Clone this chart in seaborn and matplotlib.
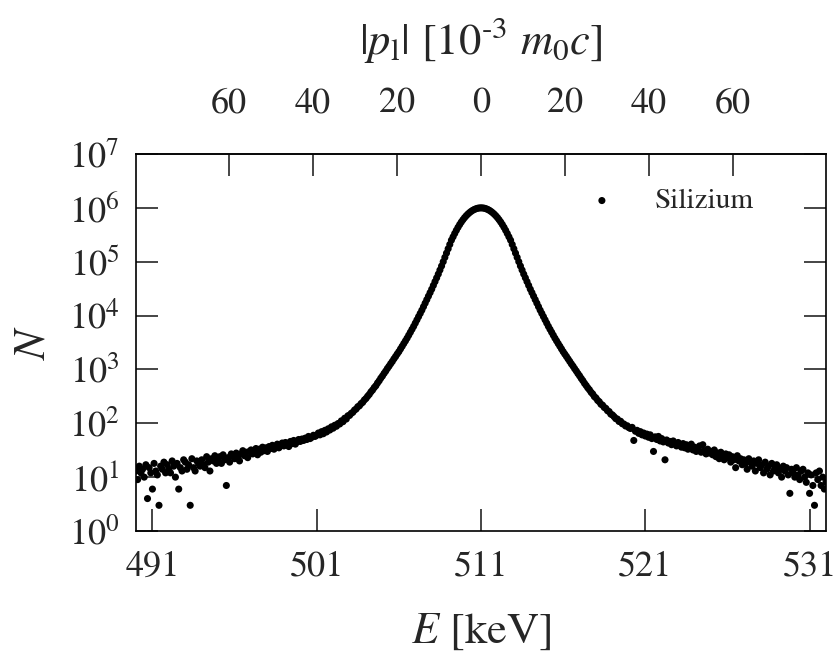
import numpy as np
import pandas as pd
import matplotlib
matplotlib.use("Agg")
import matplotlib.pyplot as plt
import seaborn as sns

# ---------------- data ----------------
E_START = 490.0      # first channel energy [keV]
E_STEP = 0.1         # channel width [keV]
E0 = 511.0           # line centre [keV]
KEV_PER_P = 0.2555   # keV per 10^-3 m0c of longitudinal momentum

counts_left = [  # 490.0 ... 511.0 keV
    13, 9, 16, 12, 14, 10, 17, 4, 15, 12,
    6, 18, 13, 11, 3, 16, 14, 19, 12, 17,
    14, 12, 20, 16, 10, 18, 6, 15, 13, 21,
    19, 14, 17, 3, 22, 15, 13, 20, 18, 16,
    21, 17, 15, 24, 19, 13, 22, 20, 25, 18,
    20, 24, 18, 26, 21, 7, 23, 19, 27, 25,
    22, 28, 24, 20, 27, 31, 25, 29, 23, 30,
    32, 27, 30, 34, 26, 33, 29, 36, 31, 35,
    30, 37, 34, 39, 33, 36, 41, 35, 38, 43,
    38, 44, 40, 37, 46, 42, 48, 41, 45, 50,
    46, 51, 48, 53, 50, 57, 52, 55, 60, 57,
    60, 66, 61, 70, 64, 74, 69, 79, 75, 86,
    81, 92, 88, 99, 97, 111, 107, 124, 120, 138,
    140, 153, 160, 176, 184, 203, 211, 232, 245, 271,
    289, 318, 344, 383, 414, 460, 498, 559, 614, 688,
    755, 843, 930, 1040, 1146, 1275, 1405, 1572, 1736, 1935,
    2138, 2401, 2688, 3022, 3385, 3806, 4315, 4898, 5559, 6310,
    7244, 8318, 9550, 10960, 12590, 14620, 16980, 19720, 22910, 26610,
    30900, 36310, 42660, 50120, 58880, 69980, 83180, 100000, 120200, 144500,
    173800, 208900, 251200, 289700, 334200, 382800, 434500, 488700, 544500, 601200,
    657700, 712900, 765600, 814700, 861000, 901600, 935400, 963800, 984000, 995400,
    1000000,
]

counts_right = [  # 511.1 ... 532.0 keV
    996000, 985000, 965000, 937000, 903000, 862000, 816000, 767000, 714000, 659000,
    602000, 545000, 489000, 435000, 383000, 334000, 290000, 251000, 209000, 174000,
    144600, 120300, 100100, 83300, 70100, 58900, 50200, 42700, 36350, 30950,
    26650, 22950, 19750, 17000, 14640, 12610, 10980, 9560, 8330, 7250,
    6320, 5565, 4905, 4320, 3808, 3392, 3018, 2695, 2403, 2142,
    1928, 1743, 1568, 1412, 1268, 1152, 1033, 935, 839, 761,
    682, 619, 553, 504, 455, 419, 377, 350, 313, 295,
    266, 251, 226, 217, 197, 189, 171, 165, 148, 143,
    133, 122, 120, 108, 109, 98, 97, 89, 90, 83,
    80, 84, 48, 71, 74, 65, 70, 61, 66, 58,
    63, 55, 61, 52, 30, 56, 50, 57, 47, 52,
    45, 21, 49, 43, 46, 40, 47, 42, 38, 44,
    39, 36, 42, 35, 40, 33, 37, 41, 32, 36,
    30, 34, 38, 29, 40, 31, 27, 33, 28, 30,
    26, 32, 24, 28, 22, 29, 25, 21, 27, 23,
    26, 19, 24, 21, 15, 25, 20, 22, 17, 21,
    18, 14, 22, 19, 16, 20, 13, 18, 21, 15,
    17, 12, 19, 14, 16, 11, 18, 13, 15, 17,
    12, 14, 10, 16, 13, 15, 11, 5, 14, 12,
    10, 15, 11, 9, 13, 14, 10, 8, 12, 5,
    11, 7, 3, 12, 9, 13, 7, 10, 6, 8,
]

counts = counts_left + counts_right
energy = np.round(E_START + E_STEP * np.arange(len(counts)), 2)

bottom_ticks = [491, 501, 511, 521, 531]
top_ticks = [-60, -40, -20, 0, 20, 40, 60]
y_ticks = [1e0, 1e1, 1e2, 1e3, 1e4, 1e5, 1e6, 1e7]

df = pd.DataFrame({"E": energy, "N": counts})

# ---------------- style ----------------
sns.set_theme(style="ticks")
plt.rcParams["font.family"] = ["STIXGeneral", "Liberation Serif", "DejaVu Serif"]
plt.rcParams["mathtext.fontset"] = "stix"

fig = plt.figure(figsize=(8.4, 6.64), dpi=100)
ax = fig.add_axes([136 / 840, (664 - 531) / 664, 690 / 840, 377 / 664])

sns.scatterplot(data=df, x="E", y="N", ax=ax, color="black", s=26,
                linewidth=0, edgecolor="none", label="Silizium", zorder=3)

ax.set_yscale("log")
ax.set_xlim(490.0, 532.0)
ax.set_ylim(1, 1e7)

ax.set_xticks(bottom_ticks)
ax.set_xticklabels([str(t) for t in bottom_ticks])
ax.set_yticks(y_ticks)
ax.set_yticklabels([rf"$10^{{{int(np.log10(v))}}}$" for v in y_ticks])
ax.yaxis.set_minor_locator(matplotlib.ticker.NullLocator())

ax.tick_params(axis="x", which="major", direction="in", length=16, width=1.2,
               labelsize=26, pad=14, top=False, bottom=True)
ax.tick_params(axis="y", which="major", direction="in", length=16, width=1.2,
               labelsize=26, pad=12, left=True, right=True)
for sp in ax.spines.values():
    sp.set_linewidth(1.2)
    sp.set_color("black")

ax.set_xlabel(r"$E$ [keV]", fontsize=32, labelpad=20)
ax.set_ylabel(r"$N$", fontsize=32, labelpad=11)

# top axis: longitudinal momentum
sec = ax.secondary_xaxis(
    "top",
    functions=(lambda e: (e - E0) / KEV_PER_P, lambda p: E0 + p * KEV_PER_P),
)
sec.set_xticks(top_ticks)
sec.set_xticklabels([str(abs(t)) for t in top_ticks])
sec.tick_params(direction="in", length=16, width=1.2, labelsize=26, pad=24)
sec.spines["top"].set_linewidth(1.2)
sec.set_xlabel(r"$|p_{\mathrm{l}}|$ [10$^{\text{-}3}$ $m_0c$]", fontsize=32,
               labelpad=24)

leg = ax.legend(loc="upper right", frameon=False, fontsize=21,
                markerscale=1.0, handletextpad=0.8,
                bbox_to_anchor=(0.933, 0.98))

fig.savefig("out.png", dpi=100)
